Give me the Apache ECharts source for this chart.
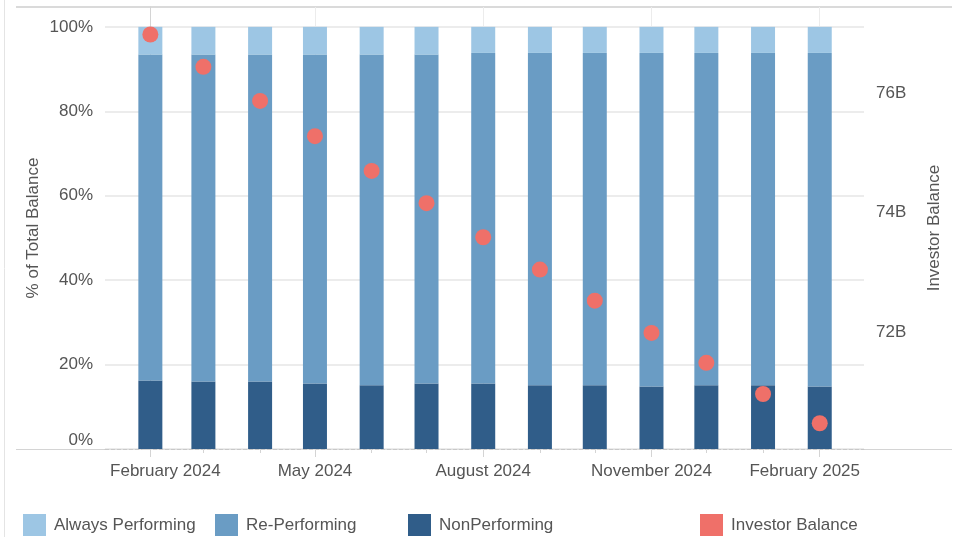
<!DOCTYPE html>
<html>
<head>
<meta charset="utf-8">
<script src="https://cdn.jsdelivr.net/npm/echarts@6/dist/echarts.min.js"></script>
<style>
  html, body { margin: 0; padding: 0; background: #fff; }
  #chart { width: 963px; height: 537px; }
</style>
</head>
<body>
<div id="chart"></div>
<script>
const months = [
  "2024-02-01", "2024-03-01", "2024-04-01", "2024-05-01", "2024-06-01", "2024-07-01", "2024-08-01",
  "2024-09-01", "2024-10-01", "2024-11-01", "2024-12-01", "2025-01-01", "2025-02-01"
];
const majorMonths = ["2024-02-01", "2024-05-01", "2024-08-01", "2024-11-01", "2025-02-01"];
const majorLabels = ["February 2024", "May 2024", "August 2024", "November 2024", "February 2025"];

// % of total balance
const nonPerforming = [16.25, 16.0, 16.0, 15.5, 15.1, 15.5, 15.5, 15.1, 15.1, 14.8, 15.1, 15.1, 14.8];
const rePerforming = [77.17, 77.42, 77.42, 77.92, 78.32, 77.92, 78.32, 78.72, 78.72, 79.02, 78.72, 78.72, 79.02];
const alwaysPerforming = [6.58, 6.58, 6.58, 6.58, 6.58, 6.58, 6.18, 6.18, 6.18, 6.18, 6.18, 6.18, 6.18];

// investor balance, billions
const investorBalance = [76.98, 76.44, 75.87, 75.28, 74.70, 74.16, 73.59, 73.05, 72.53, 71.99, 71.49, 70.97, 70.48];

const pctTicks = [0, 20, 40, 60, 80, 100];
const balanceTicks = [72, 74, 76];

const FONT = "'Liberation Sans', Arial, sans-serif";
const TEXT = "#555";
const LINE = "#d4d4d4";
const GRID = "#ececec";

// x is days since the first month, so bars keep calendar spacing
const DAY = 86400000;
const base = Date.parse(months[0]);
const toDay = (s) => Math.round((Date.parse(s) - base) / DAY);
const monthDays = months.map(toDay);
const majorDays = majorMonths.map(toDay);

const dayMin = -24.8;
const dayMax = 390.2;

const chart = echarts.init(document.getElementById("chart"));

// value first so the stack runs on the y dimension (both axes are value axes)
const barData = (vals) => vals.map((v, i) => [v, monthDays[i]]);
const barEncode = { x: 1, y: 0 };

function legend(name, left) {
  return {
    data: [name],
    left: left,
    top: 514,
    padding: 0,
    icon: "rect",
    itemWidth: 23,
    itemHeight: 22,
    selectedMode: false,
    textStyle: { fontFamily: FONT, fontSize: 17, color: TEXT, padding: [0, 0, 0, 3] }
  };
}

chart.setOption({
  animation: false,
  textStyle: { fontFamily: FONT },
  grid: { left: 105, right: 99, top: 7, bottom: 88 },
  legend: [
    legend("Always Performing", 23),
    legend("Re-Performing", 215),
    legend("NonPerforming", 408),
    legend("Investor Balance", 700)
  ],
  xAxis: [
    {
      type: "value",
      position: "bottom",
      min: dayMin,
      max: dayMax,
      axisLine: { show: true, lineStyle: { color: "#c8c8c8", type: "dashed" } },
      axisTick: { show: true, customValues: majorDays, length: 8, lineStyle: { color: LINE } },
      axisLabel: {
        customValues: majorDays,
        margin: 14,
        fontSize: 17,
        color: TEXT,
        fontFamily: FONT,
        formatter: (value) => {
          const i = majorDays.indexOf(Math.round(value));
          const txt = majorLabels[i];
          if (i === 0) return "{first|" + txt + "}";
          if (i === majorDays.length - 1) return "{last|" + txt + "}";
          return txt;
        },
        rich: {
          first: { fontSize: 17, color: TEXT, fontFamily: FONT, padding: [0, 0, 0, 30] },
          last: { fontSize: 17, color: TEXT, fontFamily: FONT, padding: [0, 30, 0, 0] }
        }
      },
      splitLine: { show: true, lineStyle: { color: GRID, width: 1 } }
    },
    {
      type: "value",
      position: "bottom",
      min: dayMin,
      max: dayMax,
      axisLine: { show: false },
      axisTick: { show: true, customValues: monthDays, length: 4, lineStyle: { color: LINE } },
      axisLabel: { show: false },
      splitLine: { show: false }
    }
  ],
  yAxis: [
    {
      type: "value",
      min: 0,
      max: 104.7,
      name: "% of Total Balance",
      nameLocation: "middle",
      nameGap: 63,
      nameMoveOverlap: false,
      nameTextStyle: { fontSize: 17, color: TEXT, fontFamily: FONT },
      axisLine: { show: true, lineStyle: { color: LINE } },
      axisTick: { show: true, customValues: pctTicks, length: 8, lineStyle: { color: LINE } },
      axisLabel: {
        customValues: pctTicks,
        margin: 12,
        fontSize: 17,
        color: TEXT,
        fontFamily: FONT,
        verticalAlignMinLabel: "bottom",
        formatter: (v) => v + "%"
      },
      splitLine: { show: true, lineStyle: { color: GRID, width: 2 } }
    },
    {
      type: "value",
      position: "right",
      min: 70.05,
      max: 77.44,
      name: "Investor Balance",
      nameLocation: "middle",
      nameGap: 62,
      nameMoveOverlap: false,
      nameTextStyle: { fontSize: 17, color: TEXT, fontFamily: FONT },
      axisLine: { show: true, lineStyle: { color: LINE } },
      axisTick: { show: true, customValues: balanceTicks, length: 8, lineStyle: { color: LINE } },
      axisLabel: {
        customValues: balanceTicks,
        margin: 12,
        fontSize: 17,
        color: TEXT,
        fontFamily: FONT,
        formatter: (v) => v + "B"
      },
      splitLine: { show: false }
    }
  ],
  graphic: [
    { type: "line", shape: { x1: 16, y1: 7, x2: 952, y2: 7 }, style: { stroke: "#dadada", lineWidth: 2 }, z: 0 },
    { type: "line", shape: { x1: 16, y1: 449.5, x2: 105, y2: 449.5 }, style: { stroke: "#d4d4d4", lineWidth: 1 }, z: 0 },
    { type: "line", shape: { x1: 864, y1: 449.5, x2: 952, y2: 449.5 }, style: { stroke: "#d4d4d4", lineWidth: 1 }, z: 0 },
    { type: "line", shape: { x1: 4.5, y1: 0, x2: 4.5, y2: 537 }, style: { stroke: "#e4e4e4", lineWidth: 1 }, z: 0 }
  ],
  series: [
    {
      name: "NonPerforming",
      type: "bar",
      stack: "pct",
      barWidth: 24,
      encode: barEncode,
      itemStyle: { color: "#305d89" },
      data: barData(nonPerforming)
    },
    {
      name: "Re-Performing",
      type: "bar",
      stack: "pct",
      barWidth: 24,
      encode: barEncode,
      itemStyle: { color: "#6a9cc4" },
      data: barData(rePerforming)
    },
    {
      name: "Always Performing",
      type: "bar",
      stack: "pct",
      barWidth: 24,
      encode: barEncode,
      itemStyle: { color: "#9dc6e4" },
      data: barData(alwaysPerforming)
    },
    {
      name: "Investor Balance",
      type: "scatter",
      yAxisIndex: 1,
      symbolSize: 16,
      itemStyle: { color: "#ef7069", opacity: 1 },
      z: 5,
      data: investorBalance.map((v, i) => [monthDays[i], v])
    }
  ]
});
</script>
</body>
</html>
